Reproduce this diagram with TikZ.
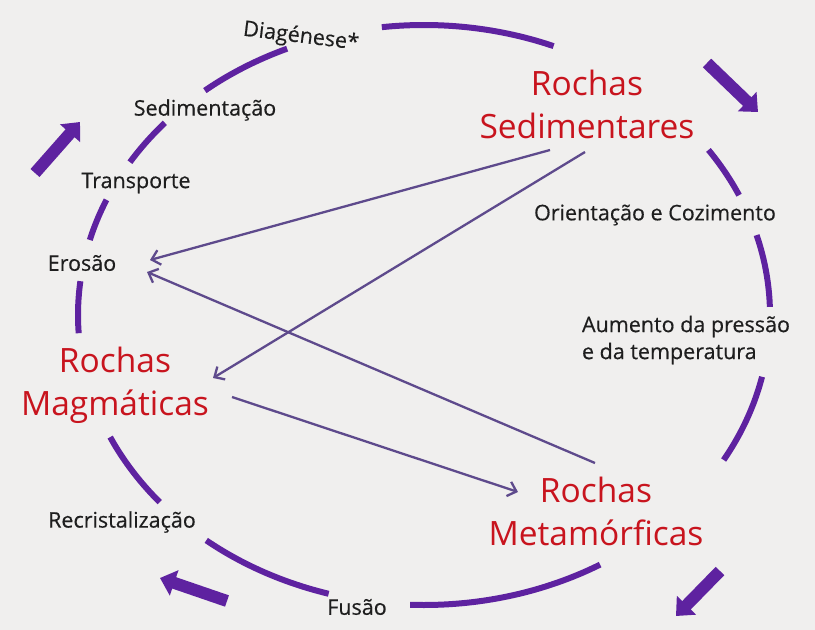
\documentclass[tikz,border=0pt]{standalone}
\usepackage{fontspec}
\setmainfont{Open Sans}
\usetikzlibrary{arrows.meta}
\definecolor{bgc}{HTML}{F0EFEE}
\definecolor{cyc}{HTML}{5E22A0}
\definecolor{linkc}{HTML}{5E4A8C}
\definecolor{rockred}{HTML}{C8141E}
\definecolor{lblc}{HTML}{1E1E1E}
\begin{document}
\begin{tikzpicture}[x=1pt,y=-1pt,
  seg/.style={cyc, line width=6pt, line cap=butt},
  lbl/.style={font=\fontsize{21.5}{27}\selectfont\addfontfeature{FakeBold=0.4}, text=lblc, inner sep=0pt},
  rock/.style={font=\fontsize{33.5}{43}\selectfont, text=rockred, align=center, inner sep=0pt},
  link/.style={linkc, line width=2.3pt, -{Straight Barb[length=8pt,width=15pt]}},
  big/.style={cyc, line width=12pt, -{Triangle[length=15pt,width=26pt]}}]
\fill[bgc] (0,0) rectangle (815,630);
\useasboundingbox (0,0) rectangle (815,630);

% cycle segments (ellipse centre 424,315; radii 346,290)
\foreach \a/\b in {263/292, 230.7/246.7, 211.8/221.5, 195/203.4, 176.4/186.7,
                   139.8/155.1, 106/129, 59.4/92.3, 12.3/30, 344/358.4, 325.3/335.6}
  \draw[seg] plot[domain=\a:\b, samples=30, smooth] ({424+346*cos(\x)},{315+290*sin(\x)});

% labels
\node[lbl, rotate=-7] (dia) at (301,37) {Diagénese*};
\node[lbl] (sedim) at (205,110) {Sedimentação};
\node[lbl] (transp) at (136,183) {Transporte};
\node[lbl] (ero) at (82,263) {Erosão};
\node[lbl] (recr) at (122,522) {Recristalização};
\node[lbl] (fus) at (357,607) {Fusão};
\node[lbl, align=left] (aum) at (686,340) {Aumento da pressão\\e da temperatura};
\node[lbl] (ori) at (655,215) {Orientação e Cozimento};

% rock types
\node[rock] (sed) at (587,104) {Rochas\\Sedimentares};
\node[rock] (mag) at (115,385) {Rochas\\Magmáticas};
\node[rock] (met) at (596,511) {Rochas\\Metamórficas};

% link anchors
\coordinate (sedA) at (550,150);
\coordinate (sedB) at (585,152);
\coordinate (eroA) at (150,260);
\coordinate (eroB) at (147,272);
\coordinate (magIn) at (213,378);
\coordinate (magOut) at (232,397);
\coordinate (metIn) at (518,492);
\coordinate (metOut) at (595,463);

\draw[link] (sedA) -- (eroA);
\draw[link] (sedB) -- (magIn);
\draw[link] (metOut) -- (eroB);
\draw[link] (magOut) -- (metIn);

% big direction arrows
\draw[big] (707,63) -- (758,112);
\draw[big] (35,173) -- (80,122);
\draw[big] (227,601) -- (160,578);
\draw[big] (720,571) -- (676,616);
\end{tikzpicture}
\end{document}
